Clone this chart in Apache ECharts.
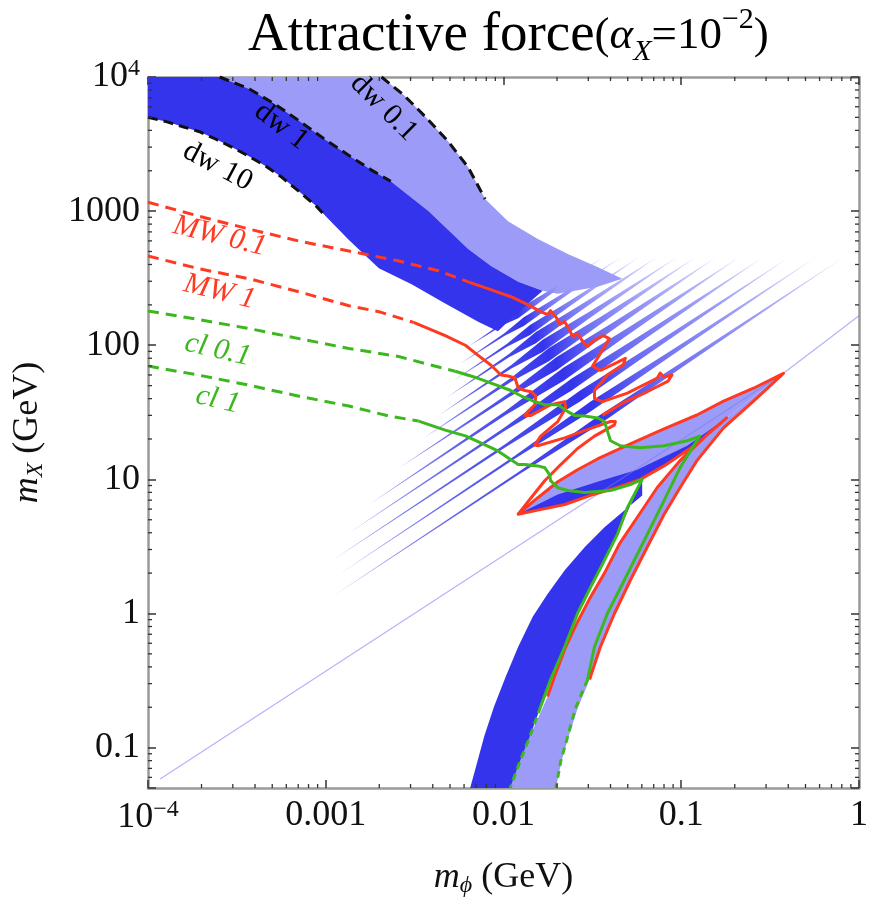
<!DOCTYPE html>
<html>
<head>
<meta charset="utf-8">
<script src="https://cdn.jsdelivr.net/npm/echarts/dist/echarts.min.js"></script>
<style>
html, body { margin: 0; padding: 0; background: #fff; }
#chart { width: 871px; height: 903px; }
</style>
</head>
<body>
<div id="chart"></div>
<script>
// ---------------------- Data (m_phi GeV, m_X GeV) ----------------------
const dw10 = [[1e-4,5000],[1.28e-4,4630],[1.57e-4,4260],[1.95e-4,3910],[2.43e-4,3420],[2.99e-4,2980],[3.72e-4,2550],[4.63e-4,2150],[5.69e-4,1780],[7.08e-4,1400],[8.84e-4,1090],[1.0e-3,915]];
const dw1 = [[2.53e-4,1e4],[3.72e-4,8140],[5.14e-4,6310],[7.08e-4,4720],[9.77e-4,3470],[1.35e-3,2600],[1.79e-3,2040],[2.32e-3,1670]];
const dw01 = [[2.06e-3,1e4],[2.74e-3,7360],[3.68e-3,4970],[4.89e-3,3300],[6.33e-3,2120],[7.88e-3,1230]];

// dark band: continuation of upper edge past dw 1, right end and lower edge back to dw 10
const darkBandEdge = [[3.78e-3,1000],[6.33e-3,522],[8.51e-3,390],[1.21e-2,297],[1.66e-2,255],[1.37e-2,204],[1.13e-2,163],[9.3e-3,127],[7.2e-3,150],[4.7e-3,205],[3.04e-3,285],[1.99e-3,375],[1.35e-3,610]];
// light band: past dw 0.1, right end, back along the dark band
const lightBandEdge = [[1.06e-2,842],[1.56e-2,619],[2.30e-2,479],[3.38e-2,384],[4.66e-2,313],[3.38e-2,273],[2.02e-2,242],[1.66e-2,255],[1.21e-2,297],[8.51e-3,390],[6.33e-3,522],[3.78e-3,1000]];

const mw01Dash = [[1e-4,1164],[1.95e-4,915],[3.72e-4,734],[7.08e-4,598],[1.35e-3,504],[2.57e-3,425],[4.30e-3,359],[6.33e-3,297]];
const mw01Solid = [[6.33e-3,297],[8.17e-3,264],[1.10e-2,230],[1.37e-2,201],[1.62e-2,178],[1.77e-2,169],[1.84e-2,181],[1.97e-2,163],[2.07e-2,143],[2.21e-2,150],[2.33e-2,133],[2.45e-2,116],[2.61e-2,122],[2.79e-2,107],[2.97e-2,98],[3.25e-2,109],[3.65e-2,118],[3.94e-2,112],[3.51e-2,87],[3.17e-2,70],[3.51e-2,65],[4.37e-2,74.5],[4.85e-2,80],[4.72e-2,72],[3.84e-2,60],[3.25e-2,46],[3.25e-2,40],[3.60e-2,38],[4.98e-2,44],[7.33e-2,57],[7.61e-2,62],[8.0e-2,58],[8.87e-2,60],[8.43e-2,54],[6.43e-2,45],[4.66e-2,37],[3.60e-2,30]];
const mw1Dash = [[1e-4,463],[1.95e-4,371],[3.72e-4,313],[7.08e-4,250],[1.35e-3,197],[1.99e-3,178],[3.12e-3,148]];
const mw1Solid = [[3.12e-3,148],[4.70e-3,118],[6.10e-3,100],[7.20e-3,84],[8.51e-3,71],[9.68e-3,60],[1.06e-2,59],[1.16e-2,57],[1.21e-2,48],[1.32e-2,46],[1.43e-2,45],[1.52e-2,42],[1.50e-2,36],[1.37e-2,32],[1.32e-2,30],[1.43e-2,30],[1.84e-2,36],[2.21e-2,38],[2.24e-2,34],[2.02e-2,27],[1.62e-2,21],[1.50e-2,18],[1.56e-2,17.8],[2.21e-2,20.4],[3.09e-2,24],[4.0e-2,27],[4.26e-2,27],[4.21e-2,25.5],[3.25e-2,21],[2.61e-2,17],[2.10e-2,12.9],[1.71e-2,9.8],[1.43e-2,7.3],[1.21e-2,5.5]];

// lower right "arrow" and tail
const vUpper = [[1.21e-2,5.5],[1.56e-2,7.3],[2.02e-2,9.6],[2.61e-2,11.8],[3.38e-2,14.2],[5.17e-2,18.4],[8.0e-2,23.8],[0.1225,30.2],[0.173,38.3],[0.255,47.8],[0.376,61.8]];
const vLower = [[1.21e-2,5.5],[1.56e-2,5.9],[2.21e-2,6.5],[3.09e-2,7.6],[4.37e-2,8.7],[5.88e-2,10],[8.0e-2,12.6],[0.1225,18.4],[0.180,28.7]];
const vDarkTop = [[1.24e-2,5.6],[2.02e-2,7.7],[3.38e-2,9.6],[5.65e-2,11.8],[0.108,17.8],[0.180,28.7]];
const outerEdge = [[0.376,61.8],[0.255,38.3],[0.173,24.2],[0.1225,13.8],[9.84e-2,8.67],[8.0e-2,5.47],[6.43e-2,3.12],[5.17e-2,1.77],[4.21e-2,1.0],[3.51e-2,0.565],[3.05e-2,0.322],[2.61e-2,0.196],[2.33e-2,0.122],[2.12e-2,0.0794],[1.97e-2,0.05]];
const innerEdge = [[0.180,28.7],[0.139,21.4],[9.84e-2,13.8],[7.33e-2,8.7],[5.65e-2,5.2],[4.49e-2,3.3],[3.70e-2,2.0],[3.09e-2,1.33],[2.61e-2,0.865],[2.24e-2,0.565],[1.94e-2,0.34],[1.77e-2,0.24],[1.41e-2,0.122],[1.24e-2,0.0794],[1.09e-2,0.05]];
const tailLeftEdge = [[6.49e-3,0.05],[7.02e-3,0.073],[7.8e-3,0.122],[8.85e-3,0.203],[1.03e-2,0.339],[1.21e-2,0.565],[1.46e-2,0.944],[1.77e-2,1.40],[2.21e-2,2.1],[2.86e-2,3.12],[3.70e-2,4.39],[4.78e-2,5.86],[6.03e-2,7.57]];

const cl01Dash = [[1e-4,180],[1.95e-4,155],[3.72e-4,133],[7.08e-4,112],[1.35e-3,94.6],[2.57e-3,82.5],[3.78e-3,72],[5.35e-3,64]];
const cl01Solid = [[5.35e-3,64],[7.2e-3,56.7],[9.3e-3,50],[1.10e-2,46],[1.25e-2,42],[1.50e-2,38],[1.71e-2,36],[2.02e-2,36],[2.30e-2,32],[2.51e-2,30],[2.86e-2,29.7],[3.38e-2,28.7],[3.70e-2,27],[3.84e-2,23],[4.0e-2,19.4],[4.54e-2,17.8],[5.88e-2,17.2],[8.0e-2,17.8],[0.108,19.4],[0.127,21],[9.84e-2,12.2],[8.0e-2,6.95],[6.19e-2,3.5],[4.78e-2,1.77],[3.84e-2,1.0],[3.25e-2,0.565],[2.97e-2,0.322]];
const cl01DashLow = [[2.97e-2,0.322],[2.54e-2,0.196],[2.30e-2,0.122],[2.10e-2,0.0794],[1.97e-2,0.05]];
const cl1Dash = [[1e-4,70],[1.95e-4,59.7],[3.72e-4,50.3],[7.08e-4,41.7],[1.35e-3,35.2],[2.26e-3,29.7],[3.33e-3,27.2]];
const cl1Solid = [[3.33e-3,27.2],[4.70e-3,23.3],[6.10e-3,21.1],[7.88e-3,18.1],[9.3e-3,16.3],[1.06e-2,14.5],[1.21e-2,12.9],[1.32e-2,12.9],[1.56e-2,12.6],[1.71e-2,12.2],[1.82e-2,10.8],[1.84e-2,9.78],[2.02e-2,8.67],[2.30e-2,8.27],[2.86e-2,7.97],[4.0e-2,8.27],[5.17e-2,9.14],[6.03e-2,10],[4.98e-2,6.17],[4.37e-2,3.89],[3.70e-2,2.5],[3.09e-2,1.57],[2.61e-2,1.0],[2.21e-2,0.565],[1.84e-2,0.322],[1.62e-2,0.203]];
const cl1DashLow = [[1.62e-2,0.203],[1.41e-2,0.122],[1.24e-2,0.0794],[1.09e-2,0.05]];

// resonance stripes: [start, widest point, end]
const stripes = [
    [[6.33e-3,97.5],[1.21e-2,172],[3.65e-2,455]],
    [[5.71e-3,72.7],[1.30e-2,150],[4.60e-2,455]],
    [[5.22e-3,54.4],[1.41e-2,130],[5.81e-2,455]],
    [[4.77e-3,40.6],[1.52e-2,114],[7.33e-2,455]],
    [[4.30e-3,30],[1.66e-2,99],[9.5e-2,455]],
    [[3.54e-3,20.3],[1.80e-2,85],[0.121,455]],
    [[2.57e-3,12.1],[1.99e-2,73],[0.158,455]],
    [[1.75e-3,6.5],[2.18e-2,61],[0.213,455]],
    [[1.35e-3,3.98],[2.42e-2,51],[0.290,455]],
    [[1.08e-3,2.47],[2.71e-2,42],[0.406,455]],
    [[1.19e-3,1.96],[3.09e-2,34.9],[0.575,455]],
    [[1.08e-3,1.33],[3.47e-2,27.8],[0.823,455]]
];
const stripeWidth = [1.08,1.08,1.09,1.10,1.11,1.12,1.12,1.12,1.11,1.10,1.09,1.08];
const faintLine = [[1.17e-4,0.0584],[0.376,61.8],[1.0,166]];

const xTickLabels = {"-4": "{n|10}{s|−4}", "-3": "0.001", "-2": "0.01", "-1": "0.1", "0": "1"};
const yTickLabels = {"-1": "0.1", "0": "1", "1": "10", "2": "100", "3": "1000", "4": "{n|10}{s|4}"};
const minorFactors = [2,3,4,5,6,7,8,9];

//---------------------- Style ----------------------
const LIGHT = '#9c9cf8';
const DARK = '#3434ec';
const RED = '#ff3a22';
const GREEN = '#3cb81e';
const SERIF = '"Liberation Serif", "DejaVu Serif", serif';
const xMin = 1e-4, xMax = 1, yMin = 0.05, yMax = 1e4;

const curveLabels = [
    {t: 'dw 0.1', at: [2.12e-3, 5.9e3], rot: -45, c: '#000', it: false},
    {t: 'dw 1',   at: [5.62e-4, 4.3e3], rot: -38, c: '#000', it: false},
    {t: 'dw 10',  at: [2.47e-4, 2.15e3], rot: -28, c: '#000', it: false},
    {t: 'MW 0.1', at: [2.53e-4, 650], rot: -14, c: RED, it: true},
    {t: 'MW 1',   at: [2.53e-4, 250], rot: -14, c: RED, it: true},
    {t: 'cl 0.1', at: [2.47e-4, 92], rot: -13, c: GREEN, it: true},
    {t: 'cl 1',   at: [2.47e-4, 39], rot: -13, c: GREEN, it: true}
];

//---------------------- Shapes ----------------------
function lerpLog(p, q, t) {
    return [Math.pow(10, Math.log10(p[0]) + t * (Math.log10(q[0]) - Math.log10(p[0]))),
            Math.pow(10, Math.log10(p[1]) + t * (Math.log10(q[1]) - Math.log10(p[1])))];
}
function stripePoly(s, w) {
    let a = s[0], c = s[1], e = s[2];
    let sh = lerpLog(a, c, 0.7), ec = lerpLog(c, e, 0.35);
    let ws = Math.pow(w, 0.3), we = Math.pow(w, 0.55);
    return [a, [sh[0], sh[1] * ws], [c[0], c[1] * w], [ec[0], ec[1] * we], e,
            [ec[0], ec[1] / we], [c[0], c[1] / w], [sh[0], sh[1] / ws]];
}
let rev = arr => arr.slice().reverse();

let lightBandPoly = [[2.53e-4, 1e4]].concat(dw01, lightBandEdge, rev(dw1));
let darkBandPoly = [[1e-4, 1e4]].concat(dw1, darkBandEdge, rev(dw10));
let vPoly = vUpper.concat(rev(vLower));
let tailLightPoly = innerEdge.concat(rev(outerEdge));
let vDarkPoly = vDarkTop.concat(rev(vLower).slice(0, -1));
let tailDarkPoly = tailLeftEdge.concat([[6.03e-2, 10]], cl1Solid.slice(19), cl1DashLow.slice(1));

let shapes = [];
shapes.push({pts: lightBandPoly, fill: LIGHT});
stripes.forEach(function (s, i) {
    shapes.push({pts: stripePoly(s, stripeWidth[i]), stripe: s});
});
shapes.push({pts: darkBandPoly, fill: DARK});
shapes.push({pts: tailLightPoly, fill: LIGHT});
shapes.push({pts: vPoly, fill: LIGHT});
shapes.push({pts: vDarkPoly, fill: DARK});
shapes.push({pts: tailDarkPoly, fill: DARK});

function stripeFill(api, s) {
    let xs = api.coord(s[0])[0], xc = api.coord(s[1])[0], xe = api.coord(s[2])[0];
    let t = (xc - xs) / (xe - xs);
    return new echarts.graphic.LinearGradient(0, 0, 1, 0, [
        {offset: 0, color: 'rgba(70,70,232,0.5)'},
        {offset: Math.max(0, t - 0.25), color: 'rgba(60,60,232,0.85)'},
        {offset: t, color: DARK},
        {offset: Math.min(1, t + 0.12), color: '#6a6af2'},
        {offset: Math.min(1, t + 0.3), color: LIGHT},
        {offset: 1, color: 'rgba(156,156,248,0.3)'}
    ]);
}

//---------------------- Series ----------------------
let series = [];
series.push({
    type: 'custom',
    name: 'regions',
    z: 2,
    clip: true,
    silent: true,
    encode: {x: 0, y: 1},
    data: shapes.map((s, i) => [s.pts[0][0], s.pts[0][1], i]),
    renderItem: function (params, api) {
        let s = shapes[params.dataIndex];
        let pts = s.pts.map(p => api.coord(p));
        return {
            type: 'polygon',
            shape: {points: pts},
            style: {fill: s.stripe ? stripeFill(api, s.stripe) : s.fill, stroke: null}
        };
    }
});

function lineSeries(data, color, width, dashed, z) {
    return {
        type: 'line', data: data, showSymbol: false, symbol: 'none', silent: true, clip: true,
        z: z || 4, animation: false,
        lineStyle: {color: color, width: width, type: dashed ? dashed : 'solid', cap: 'butt', join: 'round'}
    };
}
series.push(lineSeries(faintLine, 'rgba(120,120,245,0.55)', 1.3, null, 3));
series.push(lineSeries(dw10, '#111', 3, [10, 6]));
series.push(lineSeries(dw1, '#111', 3, [10, 6]));
series.push(lineSeries(dw01, '#111', 3, [10, 6]));
series.push(lineSeries(mw01Dash, RED, 3, [11, 7]));
series.push(lineSeries(mw1Dash, RED, 3, [11, 7]));
series.push(lineSeries(cl01Dash, GREEN, 3, [11, 7]));
series.push(lineSeries(cl1Dash, GREEN, 3, [11, 7]));
series.push(lineSeries(mw01Solid, RED, 3));
series.push(lineSeries(mw1Solid.concat(vLower.slice(1), innerEdge.slice(1, 12)), RED, 3));
series.push(lineSeries(vUpper.concat(outerEdge.slice(1, 11)), RED, 3));
series.push(lineSeries(cl01Solid, GREEN, 3, null, 5));
series.push(lineSeries(cl1Solid, GREEN, 3, null, 5));
series.push(lineSeries(cl01DashLow, GREEN, 3, [7, 5], 5));
series.push(lineSeries(cl1DashLow, GREEN, 3, [7, 5], 5));

// curve labels
series.push({
    type: 'custom',
    z: 6,
    silent: true,
    clip: false,
    encode: {x: 0, y: 1},
    data: curveLabels.map((l, i) => [l.at[0], l.at[1], i]),
    renderItem: function (params, api) {
        let l = curveLabels[params.dataIndex];
        let p = api.coord(l.at);
        return {
            type: 'text', x: p[0], y: p[1], rotation: l.rot * Math.PI / 180,
            style: {text: l.t, fill: l.c, align: 'center', verticalAlign: 'middle',
                    font: (l.it ? 'italic ' : '') + '30px ' + SERIF}
        };
    }
});

// minor ticks on all four sides of the frame
let minorTicks = [];
for (let k = -4; k <= -1; k++) minorFactors.forEach(f => minorTicks.push([f * Math.pow(10, k), yMin, 0]));
for (let k = -2; k <= 3; k++) minorFactors.forEach(f => {
    let v = f * Math.pow(10, k);
    if (v > yMin * 1.001 && v < yMax) minorTicks.push([xMin, v, 1]);
});
series.push({
    type: 'custom',
    z: 8,
    silent: true,
    clip: false,
    encode: {x: 0, y: 1},
    data: minorTicks,
    renderItem: function (params, api) {
        let isY = api.value(2) === 1;
        let len = 4, st = {stroke: '#333', lineWidth: 1.3};
        if (!isY) {
            let a = api.coord([api.value(0), yMin]), b = api.coord([api.value(0), yMax]);
            return {type: 'group', children: [
                {type: 'line', shape: {x1: a[0], y1: a[1], x2: a[0], y2: a[1] - len}, style: st},
                {type: 'line', shape: {x1: b[0], y1: b[1], x2: b[0], y2: b[1] + len}, style: st}
            ]};
        }
        let a = api.coord([xMin, api.value(1)]), b = api.coord([xMax, api.value(1)]);
        return {type: 'group', children: [
            {type: 'line', shape: {x1: a[0], y1: a[1], x2: a[0] + len, y2: a[1]}, style: st},
            {type: 'line', shape: {x1: b[0], y1: b[1], x2: b[0] - len, y2: b[1]}, style: st}
        ]};
    }
});

//---------------------- Axes ----------------------
function expOf(v) { return Math.round(Math.log10(v) * 1000) / 1000; }
let labelRich = {
    n: {fontFamily: SERIF, fontSize: 36, color: '#111', lineHeight: 40},
    s: {fontFamily: SERIF, fontSize: 24, color: '#111', verticalAlign: 'top', lineHeight: 20}
};
let frameLine = {show: true, lineStyle: {color: '#9a9a9a', width: 2.5}};
let majorTick = {show: true, inside: true, length: 8, lineStyle: {color: '#333', width: 1.5}};

let xAxisBottom = {
    type: 'log', logBase: 10, min: xMin, max: xMax, position: 'bottom', gridIndex: 0,
    axisLine: frameLine, axisTick: majorTick, splitLine: {show: false}, minorTick: {show: false},
    axisLabel: {
        margin: 10, fontFamily: SERIF, fontSize: 36, color: '#111', rich: labelRich,
        showMinLabel: true, showMaxLabel: true,
        formatter: function (v) {
            let e = expOf(v);
            return Number.isInteger(e) && xTickLabels[e] !== undefined ? xTickLabels[e] : '';
        }
    },
    name: '{i|m}{s|ϕ}{n| (GeV)}', nameLocation: 'middle', nameGap: 70,
    nameTextStyle: {rich: {
        i: {fontFamily: SERIF, fontStyle: 'italic', fontSize: 36, color: '#111', lineHeight: 40},
        s: {fontFamily: SERIF, fontStyle: 'italic', fontSize: 24, color: '#111', verticalAlign: 'bottom', lineHeight: 28},
        n: {fontFamily: SERIF, fontSize: 36, color: '#111', lineHeight: 40}
    }}
};
let xAxisTop = {
    type: 'log', logBase: 10, min: xMin, max: xMax, position: 'top', gridIndex: 0,
    axisLine: frameLine, axisTick: majorTick, axisLabel: {show: false}, splitLine: {show: false}
};
let yAxisLeft = {
    type: 'log', logBase: 10, min: yMin, max: yMax, position: 'left', gridIndex: 0,
    axisLine: frameLine, axisTick: majorTick, splitLine: {show: false},
    axisLabel: {
        margin: 8, fontFamily: SERIF, fontSize: 36, color: '#111', rich: labelRich,
        showMinLabel: true, showMaxLabel: true,
        formatter: function (v) {
            let e = expOf(v);
            return Number.isInteger(e) && yTickLabels[e] !== undefined ? yTickLabels[e] : '';
        }
    },
    name: '{i|m}{s|X}{n| (GeV)}', nameLocation: 'middle', nameGap: 100,
    nameTextStyle: {rich: {
        i: {fontFamily: SERIF, fontStyle: 'italic', fontSize: 36, color: '#111', lineHeight: 40},
        s: {fontFamily: SERIF, fontStyle: 'italic', fontSize: 24, color: '#111', verticalAlign: 'bottom', lineHeight: 28},
        n: {fontFamily: SERIF, fontSize: 36, color: '#111', lineHeight: 40}
    }}
};
let yAxisRight = {
    type: 'log', logBase: 10, min: yMin, max: yMax, position: 'right', gridIndex: 0,
    axisLine: frameLine, axisTick: majorTick, axisLabel: {show: false}, splitLine: {show: false}
};

//---------------------- Title ----------------------
let titleGraphic = {
    type: 'text', left: 248, top: 5, z: 10,
    style: {
        text: '{a|Attractive force}{b|(}{c|α}{d|X}{b|=10}{e|−2}{b|)}',
        rich: {
            a: {font: '55px ' + SERIF, fill: '#000', lineHeight: 62},
            b: {font: '45px ' + SERIF, fill: '#000', lineHeight: 62},
            c: {font: 'italic 45px ' + SERIF, fill: '#000', lineHeight: 62},
            d: {font: 'italic 30px ' + SERIF, fill: '#000', verticalAlign: 'bottom', lineHeight: 36},
            e: {font: '30px ' + SERIF, fill: '#000', verticalAlign: 'top', lineHeight: 30}
        }
    }
};

//------------------Generate Graph------------------
let chart = echarts.init(document.getElementById('chart'));
let option = {
    backgroundColor: '#fff',
    animation: false,
    grid: {left: 148, top: 77, width: 715, height: 715, containLabel: false},
    xAxis: [xAxisBottom, xAxisTop],
    yAxis: [yAxisLeft, yAxisRight],
    graphic: [titleGraphic],
    series: series
};
chart.setOption(option);
</script>
</body>
</html>
